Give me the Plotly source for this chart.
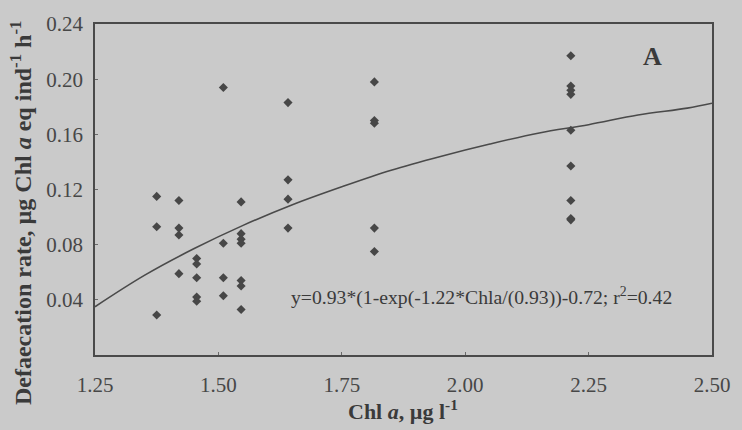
import plotly.graph_objects as go

# Observed data (Chl a, defaecation rate)
chl = [1.375, 1.375, 1.375,
       1.42, 1.42, 1.42, 1.42,
       1.456, 1.456, 1.456, 1.456, 1.456,
       1.51, 1.51, 1.51, 1.51,
       1.546, 1.546, 1.546, 1.546, 1.546, 1.546, 1.546,
       1.641, 1.641, 1.641, 1.641,
       1.816, 1.816, 1.816, 1.816, 1.816,
       2.214, 2.214, 2.214, 2.214, 2.214, 2.214, 2.214, 2.214, 2.214]
rate = [0.115, 0.093, 0.029,
        0.112, 0.092, 0.087, 0.059,
        0.070, 0.066, 0.056, 0.042, 0.039,
        0.194, 0.081, 0.056, 0.043,
        0.111, 0.088, 0.084, 0.081, 0.054, 0.050, 0.033,
        0.183, 0.127, 0.113, 0.092,
        0.198, 0.170, 0.168, 0.092, 0.075,
        0.217, 0.195, 0.192, 0.189, 0.163, 0.137, 0.112, 0.098, 0.099]

# Fitted curve
fit_x = [1.25, 1.35, 1.45, 1.55, 1.65, 1.75, 1.85, 1.95, 2.05, 2.15, 2.25, 2.35, 2.45, 2.50]
fit_y = [0.035, 0.0577, 0.077, 0.094, 0.109, 0.122, 0.134, 0.144, 0.153, 0.161, 0.167, 0.174, 0.179, 0.1825]

x_ticks = [1.25, 1.50, 1.75, 2.00, 2.25, 2.50]
y_ticks = [0.04, 0.08, 0.12, 0.16, 0.20, 0.24]

BG = "#cacaca"
INK = "#3a3a3a"
FONT = "Liberation Serif"

fig = go.Figure()
fig.add_trace(go.Scatter(x=fit_x, y=fit_y, mode="lines", line=dict(color="#4a4a4a", width=1.6, shape="spline"),
                         hoverinfo="skip", showlegend=False))
fig.add_trace(go.Scatter(x=chl, y=rate, mode="markers",
                         marker=dict(symbol="diamond", size=7, color="#474747"), showlegend=False))

axis_common = dict(showgrid=False, zeroline=False, showline=True, linecolor="#4a4a4a", linewidth=1.5,
                   mirror=True, ticks="inside", ticklen=3, tickcolor="#6a6a6a",
                   tickfont=dict(family=FONT, size=21, color="#474747"))

fig.update_xaxes(range=[1.25, 2.50], tickvals=x_ticks, ticktext=[f"{v:.2f}" for v in x_ticks],
                 ticklabelstandoff=10, **axis_common)
fig.update_yaxes(range=[0, 0.24], tickvals=y_ticks, ticktext=[f"{v:.2f}" for v in y_ticks],
                 ticklabelstandoff=6, **axis_common)

fig.add_annotation(xref="paper", yref="paper", x=(405 - 95) / 621, y=(355 - 410) / 330,
                   text="<b>Chl <i>a</i>, µg l<sup>-1</sup></b>", showarrow=False,
                   xanchor="center", yanchor="middle", font=dict(family=FONT, size=22, color=INK))
fig.add_annotation(xref="paper", yref="paper", x=(20 - 95) / 621, y=(355 - 213) / 330,
                   text="<b>Defaecation rate, µg Chl <i>a</i> eq ind<sup>-1</sup> h<sup>-1</sup></b>",
                   showarrow=False, textangle=-90, xanchor="center", yanchor="middle",
                   font=dict(family=FONT, size=24, color=INK))
fig.add_annotation(xref="paper", yref="paper", x=(290 - 95) / 621, y=(355 - 297) / 330,
                   text="y=0.93*(1-exp(-1.22*Chla/(0.93))-0.72; r<sup>2</sup>=0.42",
                   showarrow=False, xanchor="left", yanchor="middle",
                   font=dict(family=FONT, size=19.7, color=INK))
fig.add_annotation(xref="paper", yref="paper", x=(656 - 95) / 621, y=(355 - 57) / 330,
                   text="<b>A</b>", showarrow=False, xanchor="center", yanchor="middle",
                   font=dict(family=FONT, size=26, color=INK))

fig.update_layout(width=742, height=430, margin=dict(l=95, r=26, t=24, b=75),
                  paper_bgcolor=BG, plot_bgcolor=BG, font=dict(family=FONT, color=INK))

fig.write_html("out.html", config={"displayModeBar": False},
               post_script="document.body.style.margin='0';")
